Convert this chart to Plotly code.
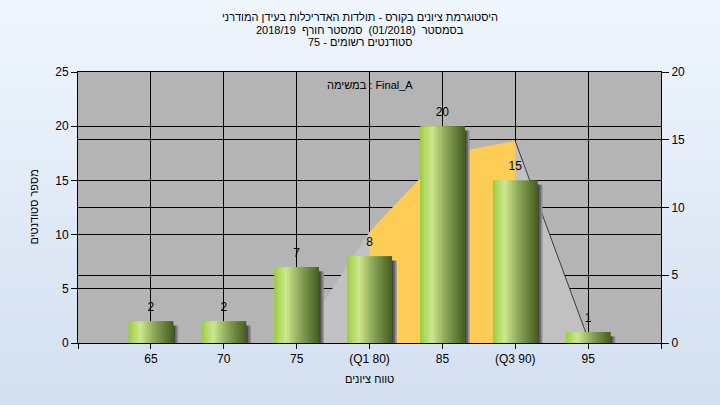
import plotly.graph_objects as go

# ---------------- data ----------------
categories = ["65", "70", "75", "(Q1 80)", "85", "(Q3 90)", "95"]
counts = [2, 2, 7, 8, 20, 15, 1]
# distribution curve (right axis units)
curve_values = [0, 0, 0, 8.2, 13.9, 14.9, 0.3]
q1_index = 3
q3_index = 5
left_ticks = [0, 5, 10, 15, 20, 25]
right_ticks = [0, 5, 10, 15, 20]

title_lines = [
    "היסטוגרמת ציונים בקורס - תולדות האדריכלות בעידן המודרני",
    "בסמסטר  (01/2018)  סמסטר חורף  2018/19",
    "סטודנטים רשומים - 75",
]
task_label = "במשימה : Final_A"
x_title = "טווח ציונים"
y_title = "מספר סטודנטים"

# ---------------- geometry / style ----------------
W, H = 720, 405
ML, MR, MT, MB = 78, 59, 72, 62
PW, PH = W - ML - MR, H - MT - MB
FONT = "Liberation Sans, Arial, sans-serif"

x_pos = list(range(len(categories)))
tickvals = list(range(-1, len(categories) + 1))
ticktext = [""] + categories + [""]


def lerp(c1, c2, t):
    return tuple(round(a + (b - a) * t) for a, b in zip(c1, c2))


def grad(stops, t):
    for (t0, c0), (t1, c1) in zip(stops, stops[1:]):
        if t0 <= t <= t1:
            return "rgb(%d,%d,%d)" % lerp(c0, c1, (t - t0) / (t1 - t0) if t1 > t0 else 0)
    return "rgb(%d,%d,%d)" % stops[-1][1]


bar_stops = [
    (0.00, (152, 204, 58)),
    (0.12, (180, 218, 100)),
    (0.27, (204, 231, 145)),
    (0.42, (172, 198, 112)),
    (0.62, (132, 158, 84)),
    (0.82, (98, 124, 54)),
    (1.00, (70, 94, 30)),
]

fig = go.Figure()

# background curve areas (base subplot, right axis)
gray_x = x_pos[2:]
gray_y = curve_values[2:]
fig.add_trace(go.Scatter(x=gray_x, y=gray_y, mode="lines", fill="tozeroy",
                         line=dict(width=0, color="rgba(0,0,0,0)"),
                         fillcolor="#c1c1c1", yaxis="y", hoverinfo="skip",
                         showlegend=False))
fig.add_trace(go.Scatter(x=x_pos[q1_index:q3_index + 1],
                         y=curve_values[q1_index:q3_index + 1],
                         mode="lines", fill="tozeroy",
                         line=dict(width=0, color="rgba(0,0,0,0)"),
                         fillcolor="#ffcc55", yaxis="y", hoverinfo="skip",
                         showlegend=False))
fig.add_trace(go.Scatter(x=x_pos[q3_index:], y=curve_values[q3_index:],
                         mode="lines", line=dict(width=1, color="#3a3a3a"),
                         yaxis="y", hoverinfo="skip", showlegend=False))

# bars with cylinder gradient (overlay subplot, left axis)
BW = 0.615
N = 21
sw = BW / N
# shadows
shadow_cols = ["#454545", "#6a6a6a", "#8e8e8e"]
shw = 1.6 / (PW / 8)
for j, c in reversed(list(enumerate(shadow_cols))):
    fig.add_trace(go.Bar(x=x_pos, y=counts, base=-0.4, width=shw * 2,
                         offset=BW / 2 - shw + j * shw,
                         marker=dict(color=c, line=dict(width=0)),
                         yaxis="y2", hoverinfo="skip", showlegend=False))
for k in range(N):
    t = (k + 0.5) / N
    wk = sw * 2 if k < N - 1 else sw
    fig.add_trace(go.Bar(x=x_pos, y=counts, width=wk,
                         offset=-BW / 2 + k * sw,
                         marker=dict(color=grad(bar_stops, t), line=dict(width=0)),
                         yaxis="y2", hoverinfo="skip", showlegend=False))

# value labels
fig.add_trace(go.Scatter(x=x_pos, y=counts, mode="markers+text", text=[str(v) for v in counts],
                         textposition="top center",
                         marker=dict(size=10, opacity=0),
                         textfont=dict(family=FONT, size=12, color="#000000"),
                         yaxis="y2", hoverinfo="skip", showlegend=False))

# ---------------- background bands ----------------
shapes = []
nb = 40
top_c, bot_c = (211, 223, 240), (239, 246, 253)
for i in range(nb):
    y0 = H - (i + 1) * H / nb
    y1 = H - i * H / nb
    t = (i + 0.5) / nb
    col = "rgb(%d,%d,%d)" % lerp(top_c, bot_c, t)
    shapes.append(dict(type="rect", xref="paper", yref="paper",
                       x0=-ML / PW, x1=(W - ML) / PW,
                       y0=(H - MB - y1) / PH, y1=(H - MB - y0) / PH + 0.001,
                       fillcolor=col, line=dict(width=0), layer="below"))
shapes.append(dict(type="rect", xref="paper", yref="paper", x0=0, x1=1, y0=0, y1=1,
                   fillcolor="#b4b4b4", line=dict(width=0), layer="below"))

# ---------------- annotations ----------------
annotations = []
title_y_px = [17, 30, 42]
for txt, ypx in zip(title_lines, title_y_px):
    annotations.append(dict(text=txt, xref="paper", yref="paper",
                            x=(360 - ML) / PW, y=(H - MB - ypx) / PH,
                            xanchor="center", yanchor="middle", showarrow=False,
                            font=dict(family=FONT, size=11, color="#000000")))
annotations.append(dict(text=task_label, xref="x", yref="paper", x=q1_index,
                        y=(H - MB - 85) / PH, xanchor="center", yanchor="middle",
                        showarrow=False, font=dict(family=FONT, size=11, color="#000000")))
annotations.append(dict(text=x_title, xref="paper", yref="paper", x=0.5,
                        y=(H - MB - 379) / PH, xanchor="center", yanchor="middle",
                        showarrow=False, font=dict(family=FONT, size=11, color="#000000")))
annotations.append(dict(text=y_title, xref="paper", yref="paper", x=(33 - ML) / PW,
                        y=0.5, xanchor="center", yanchor="middle", textangle=-90,
                        showarrow=False, font=dict(family=FONT, size=11, color="#000000")))

axis_font = dict(family=FONT, size=12, color="#000000")
fig.update_layout(
    width=W, height=H,
    margin=dict(l=ML, r=MR, t=MT, b=MB, pad=0),
    paper_bgcolor="rgb(225,235,247)",
    plot_bgcolor="rgba(0,0,0,0)",
    barmode="overlay",
    showlegend=False,
    hovermode=False,
    shapes=shapes,
    annotations=annotations,
    xaxis=dict(range=[-1, len(categories)], tickvals=tickvals, ticktext=ticktext,
               showgrid=True, gridcolor="#000000", gridwidth=1,
               ticks="outside", ticklen=5, tickcolor="#000000",
               showline=True, linecolor="#000000", linewidth=1, mirror=True,
               zeroline=False, tickfont=axis_font, fixedrange=True),
    yaxis=dict(range=[0, 20], tickvals=right_ticks, side="right",
               showgrid=True, gridcolor="#000000", gridwidth=1,
               ticks="outside", ticklen=7, tickcolor="#000000",
               showline=True, linecolor="#000000", linewidth=1,
               zeroline=False, tickfont=axis_font, fixedrange=True),
    yaxis2=dict(range=[0, 25], tickvals=left_ticks, side="left", overlaying="y",
                showgrid=True, gridcolor="#000000", gridwidth=1,
                ticks="outside", ticklen=6, tickcolor="#000000",
                showline=True, linecolor="#000000", linewidth=1,
                zeroline=False, tickfont=axis_font, fixedrange=True),
)

fig.write_html("out.html", config={"displayModeBar": False, "staticPlot": True},
               post_script="document.body.style.margin='0';document.body.style.overflow='hidden';")
